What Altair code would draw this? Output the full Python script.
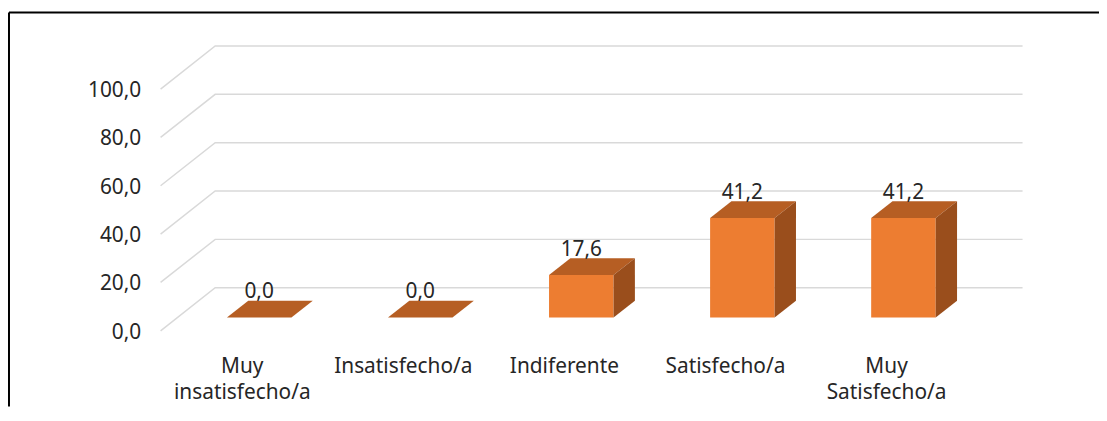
import altair as alt
import pandas as pd

# ---------------- data ----------------
TITLE = "Ilustración 8. Satisfacción con la atención y el trato recibidos."
categories = ["Muy insatisfecho/a", "Insatisfecho/a", "Indiferente",
              "Satisfecho/a", "Muy Satisfecho/a"]
values = [0.0, 0.0, 17.6, 41.2, 41.2]
y_ticks = [0, 20, 40, 60, 80, 100]

# ---------------- geometry / style ----------------
W, H = 1098, 397          # view size
PX_U = 162.25             # px per category step
X0 = 252.0                # px of first category centre
PX_V = 2.435              # px per value unit
Y0 = 320.7                # px of value 0 on the front grid plane

x_dom = [-X0 / PX_U, (W - X0) / PX_U]
y_dom = [(Y0 - H) / PX_V, Y0 / PX_V]

BASE = 13.4 / PX_V        # bar front plane offset (value units)
HW = 32.5 / PX_U          # half bar width (category units)
DU = 21.5 / PX_U          # bar depth, x
DV = 16.8 / PX_V          # bar depth, y
GF, GB, GE = -99.3 / PX_U, -44.3 / PX_U, 769.0 / PX_U   # grid front, back, end
GDV = 43.4 / PX_V         # grid depth, y

FONT = "Noto Sans"
FS = 21
TXT = "#262626"
ORANGE = "#ED7D31"
TOPC = "#B65E23"
SIDEC = "#9A4E1C"
GRIDC = "#D9D9D9"

# ---------------- tables ----------------
bars_df = pd.DataFrame({"idx": list(range(len(categories))),
                        "cat": categories, "value": values})
bars_df["y_base"] = BASE
bars_df["y_top"] = BASE + bars_df["value"]
bars_df["x_l"] = bars_df["idx"] - HW
bars_df["x_r"] = bars_df["idx"] + HW
bars_df["y_lab"] = BASE + bars_df["value"] + DV

top_rows, side_rows = [], []
for i, v in zip(bars_df["idx"], values):
    for t in (0, 1):
        top_rows.append({"idx": i, "y": BASE + v + DV * t,
                         "xa": i - HW + DU * t, "xb": i + HW + DU * t})
        side_rows.append({"idx": i, "x": i + HW + DU * t,
                          "ya": BASE + DV * t, "yb": BASE + v + DV * t})
top_df = pd.DataFrame(top_rows)
side_df = pd.DataFrame(side_rows)

grid_rows = []
for v in y_ticks:
    grid_rows += [{"v": v, "k": 0, "u": GF, "y": v},
                  {"v": v, "k": 1, "u": GB, "y": v + GDV},
                  {"v": v, "k": 2, "u": GE, "y": v + GDV}]
grid_df = pd.DataFrame(grid_rows)

# ---------------- scales / axes ----------------
xs = alt.Scale(domain=x_dom, nice=False, zero=False)
ys = alt.Scale(domain=y_dom, nice=False, zero=False)

cat_list = "[" + ", ".join("'" + c + "'" for c in categories) + "]"
X_AXIS = alt.Axis(values=list(range(len(categories))), title=None, grid=False,
                  ticks=False, domain=False,
                  labelExpr="split(" + cat_list + "[datum.value], ' ')",
                  labelFont=FONT, labelFontSize=FS, labelColor=TXT,
                  labelOffset=-17.5, labelPadding=0, offset=-34,
                  labelBaseline="alphabetic", labelLineHeight=25.5,
                  labelOverlap=False, labelFlush=False, labelBound=False)
Y_AXIS = alt.Axis(values=y_ticks, title=None, grid=False, ticks=False,
                  domain=False,
                  labelExpr="replace(format(datum.value, '.1f'), '.', ',')",
                  labelFont=FONT, labelFontSize=FS, labelColor=TXT,
                  labelPadding=0, offset=-132.7, labelOffset=1.5,
                  labelOverlap=False, labelFlush=False, labelBound=False)

# ---------------- layers ----------------
grid = alt.Chart(grid_df).mark_line(color=GRIDC, strokeWidth=1.5).encode(
    x=alt.X("u:Q", scale=xs, axis=X_AXIS),
    y=alt.Y("y:Q", scale=ys, axis=Y_AXIS),
    detail="v:N", order="k:Q")

front = alt.Chart(bars_df).mark_rect(color=ORANGE).encode(
    x=alt.X("x_l:Q", scale=xs, axis=X_AXIS), x2="x_r:Q",
    y=alt.Y("y_base:Q", scale=ys, axis=Y_AXIS), y2="y_top:Q")

top = alt.Chart(top_df).mark_area(orient="horizontal", color=TOPC).encode(
    y=alt.Y("y:Q", scale=ys, axis=Y_AXIS),
    x=alt.X("xa:Q", scale=xs, axis=X_AXIS, stack=None), x2="xb:Q",
    detail="idx:N")

side = alt.Chart(side_df).mark_area(color=SIDEC).encode(
    x=alt.X("x:Q", scale=xs, axis=X_AXIS),
    y=alt.Y("ya:Q", scale=ys, axis=Y_AXIS, stack=None), y2="yb:Q",
    detail="idx:N")

labels = alt.Chart(bars_df).transform_calculate(
    lab="replace(format(datum.value, '.1f'), '.', ',')"
).mark_text(font=FONT, fontSize=FS, color=TXT, baseline="alphabetic",
            dy=-2.5).encode(
    x=alt.X("idx:Q", scale=xs, axis=X_AXIS),
    y=alt.Y("y_lab:Q", scale=ys, axis=Y_AXIS),
    text="lab:N")

one = pd.DataFrame({"a": [0]})
frame_l = alt.Chart(one).mark_rule(color="black", strokeWidth=2).encode(
    x=alt.value(0), y=alt.value(0), y2=alt.value(H))
frame_t = alt.Chart(one).mark_rule(color="black", strokeWidth=2).encode(
    x=alt.value(0), x2=alt.value(W), y=alt.value(0))

chart = alt.layer(grid, front, top, side, labels, frame_l, frame_t).properties(
    width=W, height=H,
    title=alt.TitleParams(TITLE, anchor="start", font=FONT, fontSize=FS,
                          fontStyle="italic", fontWeight="normal", color=TXT,
                          offset=7, dx=-1),
    padding={"left": 1, "top": 3, "right": 0, "bottom": 0},
    autosize=alt.AutoSizeParams(type="none"),
).configure_view(stroke=None)

chart.save("out.html", embed_options={"renderer": "svg", "actions": False})
